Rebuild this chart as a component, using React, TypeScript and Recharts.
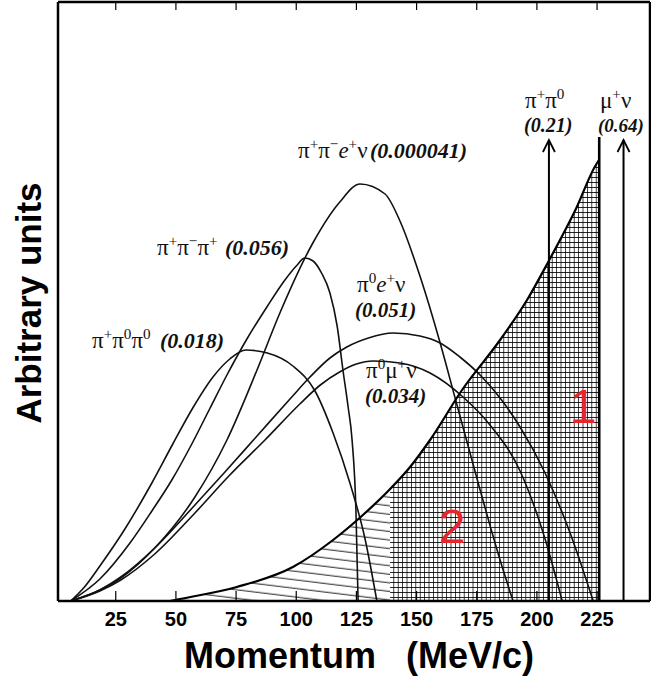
import React from "react";
import { ComposedChart, Line, Area, XAxis, YAxis } from "recharts";

const W = 651;
const H = 677;

// momentum axis (MeV/c)
const momentumTicks = [25, 50, 75, 100, 125, 150, 175, 200, 225];

// spectra: p = momentum (MeV/c), n = arbitrary units
const pi3Neutral = [
  { p: 6.3, n: 0 }, { p: 12.0, n: 14 }, { p: 18.4, n: 35 }, { p: 28.8, n: 72 },
  { p: 40.0, n: 118 }, { p: 48.7, n: 157 }, { p: 57.0, n: 193 }, { p: 65.4, n: 224 },
  { p: 72.4, n: 242 }, { p: 79.0, n: 251 }, { p: 88.0, n: 248 }, { p: 98.6, n: 235 },
  { p: 107.8, n: 210 }, { p: 115.3, n: 168 }, { p: 122.3, n: 118 }, { p: 128.6, n: 62 },
  { p: 133.5, n: 0 },
];

const pi3Charged = [
  { p: 6.3, n: 0 }, { p: 18.4, n: 22 }, { p: 30.9, n: 58 }, { p: 40.0, n: 90 },
  { p: 48.3, n: 121 }, { p: 56.6, n: 157 }, { p: 64.0, n: 192 }, { p: 71.2, n: 226 },
  { p: 79.5, n: 262 }, { p: 87.8, n: 294 }, { p: 95.0, n: 320 }, { p: 100.0, n: 335 },
  { p: 103.6, n: 343 }, { p: 107.0, n: 340 }, { p: 110.5, n: 328 }, { p: 114.0, n: 308 },
  { p: 117.0, n: 275 }, { p: 119.4, n: 231 }, { p: 121.5, n: 195 }, { p: 123.2, n: 161 },
  { p: 124.8, n: 91 }, { p: 125.7, n: 0 },
];

const ke4 = [
  { p: 6.3, n: 0 }, { p: 18.4, n: 11 }, { p: 27.1, n: 23 }, { p: 41.2, n: 53 },
  { p: 57.9, n: 104 }, { p: 71.2, n: 161 }, { p: 83.7, n: 231 }, { p: 93.2, n: 288 },
  { p: 106.9, n: 358 }, { p: 118.1, n: 399 }, { p: 126.5, n: 417 }, { p: 136.9, n: 407 },
  { p: 143.1, n: 380 }, { p: 151.4, n: 325 }, { p: 159.8, n: 258 }, { p: 165.9, n: 204 },
  { p: 176.4, n: 111 }, { p: 184.7, n: 41 }, { p: 190.1, n: 0 },
];

const ke3 = [
  { p: 6.3, n: 0 }, { p: 18.4, n: 11 }, { p: 27.1, n: 24 }, { p: 41.2, n: 53 },
  { p: 57.9, n: 96 }, { p: 70.0, n: 128 }, { p: 83.7, n: 165 }, { p: 97.4, n: 202 },
  { p: 105.7, n: 224 }, { p: 114.0, n: 243 }, { p: 121.0, n: 254 }, { p: 130.0, n: 263 },
  { p: 140.2, n: 268 }, { p: 151.4, n: 265 }, { p: 159.8, n: 258 }, { p: 168.0, n: 244 },
  { p: 176.4, n: 226 }, { p: 184.7, n: 203 }, { p: 193.0, n: 174 }, { p: 203.4, n: 128 },
  { p: 213.8, n: 68 }, { p: 223.4, n: 0 },
];

const kmu3 = [
  { p: 6.3, n: 0 }, { p: 18.4, n: 10 }, { p: 27.1, n: 21 }, { p: 41.2, n: 47 },
  { p: 57.9, n: 88 }, { p: 72.0, n: 125 }, { p: 87.0, n: 161 }, { p: 101.5, n: 197 },
  { p: 110.0, n: 216 }, { p: 118.0, n: 229 }, { p: 125.0, n: 237 }, { p: 131.9, n: 240 },
  { p: 143.1, n: 238 }, { p: 155.6, n: 228 }, { p: 169.3, n: 204 }, { p: 180.5, n: 176 },
  { p: 193.0, n: 130 }, { p: 203.4, n: 62 }, { p: 210.5, n: 0 },
];

// upper edge of the hatched background region
const shadeEdge = [
  { p: 47.5, n: 0 }, { p: 51.6, n: 2 }, { p: 75.3, n: 14 }, { p: 98.6, n: 34 },
  { p: 115.3, n: 61 }, { p: 127.7, n: 86 }, { p: 139.0, n: 112 }, { p: 147.3, n: 134 },
  { p: 155.6, n: 161 }, { p: 168.9, n: 211 }, { p: 184.7, n: 261 }, { p: 195.9, n: 301 },
  { p: 204.7, n: 339 }, { p: 216.0, n: 391 }, { p: 225.0, n: 438 }, { p: 225.9, n: 441 },
];
const gridFrom = 139.0;

// two-body lines: momentum and arrow height
const kpi2 = [{ p: 205, n: 0 }, { p: 205, n: 461 }];
const kmu2 = [{ p: 236, n: 0 }, { p: 236, n: 461 }];
const edgeSpike = [{ p: 225.9, n: 0 }, { p: 225.9, n: 464 }];

const SANS = "'Liberation Sans', Arial, sans-serif";
const SERIF = "'Liberation Serif', 'Times New Roman', serif";
const FRAME = { stroke: "#000", strokeWidth: 2.5 };

const BottomTick = (props: any) => {
  const { x, y, payload } = props;
  return (
    <g>
      <line x1={x} y1={y} x2={x} y2={y - 10} stroke="#000" strokeWidth={1.2} />
      <text x={x} y={y + 25} textAnchor="middle" fontFamily={SANS} fontWeight="bold" fontSize={20} fill="#000">
        {payload.value}
      </text>
    </g>
  );
};

const TopTick = (props: any) => {
  const { x, y } = props;
  return <line x1={x} y1={y} x2={x} y2={y + 8} stroke="#000" strokeWidth={1.2} />;
};

const ArrowHead = (props: any) => {
  const { cx, cy, index } = props;
  if (index !== 1) return <g key={`a${index}`} />;
  return (
    <polyline
      key={`a${index}`}
      points={`${cx - 6},${cy + 12} ${cx},${cy} ${cx + 6},${cy + 12}`}
      fill="none"
      stroke="#000"
      strokeWidth={1.8}
    />
  );
};

// b = base, s = superscript, i = italic base, v = bold italic value, n = new line (text = x shift)
type Seg = [string, "b" | "s" | "i" | "v" | "n"];

function Formula({
  x,
  y,
  segs,
  size = 23,
  valueSize = 22,
  lead = 18,
}: {
  x: number;
  y: number;
  segs: Seg[];
  size?: number;
  valueSize?: number;
  lead?: number;
}) {
  let raised = false;
  let pending: { x: number; dy: number } | null = null;
  const lift = 0.4 * size;
  return (
    <text x={x} y={y} fontFamily={SERIF} fontSize={size} fill="#111">
      {segs.map(([t, k], i) => {
        if (k === "n") {
          pending = { x: x + Number(t), dy: lead + (raised ? lift : 0) };
          raised = false;
          return null;
        }
        const sup = k === "s";
        let dy = sup && !raised ? -lift : !sup && raised ? lift : 0;
        let tx: number | undefined;
        if (pending) {
          dy += pending.dy;
          tx = pending.x;
          pending = null;
        }
        raised = sup;
        return (
          <tspan
            key={i}
            x={tx}
            dy={dy}
            fontSize={sup ? size * 0.66 : k === "v" ? valueSize : size}
            fontStyle={k === "i" || k === "v" ? "italic" : "normal"}
            fontWeight={k === "v" ? "bold" : "normal"}
          >
            {t}
          </tspan>
        );
      })}
    </text>
  );
}

const curveStyle = { stroke: "#111", strokeWidth: 1.6 };

export default function App() {
  return (
    <div style={{ position: "absolute", left: 0, top: 0, width: W, height: H, background: "#fff" }}>
      <svg width={0} height={0} style={{ position: "absolute" }}>
        <defs>
          <pattern id="hatchSlant" patternUnits="userSpaceOnUse" width={10} height={8.5} patternTransform="rotate(7)">
            <line x1={0} y1={4} x2={10} y2={4} stroke="#000" strokeWidth={0.9} />
          </pattern>
          <pattern id="hatchGrid" patternUnits="userSpaceOnUse" width={4.4} height={5}>
            <path d="M0 2.5 H4.4 M2.2 0 V5" stroke="#000" strokeWidth={0.8} fill="none" />
          </pattern>
        </defs>
      </svg>

      <ComposedChart width={W} height={H} margin={{ top: 1, right: 0, left: 57, bottom: 0 }}>
        <XAxis
          type="number"
          dataKey="p"
          domain={[1, 247]}
          ticks={momentumTicks}
          interval={0}
          height={76}
          tickSize={0}
          tickMargin={0}
          tickLine={false}
          axisLine={FRAME}
          tick={(p: any) => <BottomTick {...p} />}
          allowDataOverflow
        />
        <XAxis
          xAxisId="top"
          orientation="top"
          type="number"
          dataKey="p"
          domain={[1, 247]}
          ticks={momentumTicks}
          interval={0}
          height={1}
          tickSize={0}
          tickMargin={0}
          tickLine={false}
          axisLine={FRAME}
          tick={(p: any) => <TopTick {...p} />}
          allowDataOverflow
        />
        <YAxis type="number" domain={[0, 599]} width={1} tick={false} tickLine={false} axisLine={FRAME} allowDataOverflow />
        <YAxis
          yAxisId="right"
          orientation="right"
          type="number"
          domain={[0, 599]}
          width={1}
          tick={false}
          tickLine={false}
          axisLine={FRAME}
          allowDataOverflow
        />

        <Area
          data={shadeEdge.filter((d) => d.p <= gridFrom)}
          dataKey="n"
          type="monotone"
          stroke="none"
          fill="url(#hatchSlant)"
          fillOpacity={1}
          isAnimationActive={false}
        />
        <Area
          data={shadeEdge.filter((d) => d.p >= gridFrom)}
          dataKey="n"
          type="monotone"
          stroke="none"
          fill="url(#hatchGrid)"
          fillOpacity={1}
          isAnimationActive={false}
        />

        <Line data={pi3Neutral} dataKey="n" type="monotone" {...curveStyle} dot={false} isAnimationActive={false} />
        <Line data={pi3Charged} dataKey="n" type="monotone" {...curveStyle} dot={false} isAnimationActive={false} />
        <Line data={ke4} dataKey="n" type="monotone" {...curveStyle} dot={false} isAnimationActive={false} />
        <Line data={ke3} dataKey="n" type="monotone" {...curveStyle} dot={false} isAnimationActive={false} />
        <Line data={kmu3} dataKey="n" type="monotone" {...curveStyle} dot={false} isAnimationActive={false} />
        <Line data={shadeEdge} dataKey="n" type="monotone" stroke="#000" strokeWidth={2.2} dot={false} isAnimationActive={false} />
        <Line
          data={edgeSpike}
          xAxisId="top"
          yAxisId="right"
          dataKey="n"
          type="linear"
          stroke="#000"
          strokeWidth={2.6}
          dot={false}
          isAnimationActive={false}
        />
        <Line data={kpi2} dataKey="n" type="linear" stroke="#000" strokeWidth={2} dot={ArrowHead} isAnimationActive={false} />
        <Line data={kmu2} dataKey="n" type="linear" stroke="#000" strokeWidth={2} dot={ArrowHead} isAnimationActive={false} />
      </ComposedChart>

      <svg width={W} height={H} style={{ position: "absolute", left: 0, top: 0, pointerEvents: "none" }}>
        <Formula x={92} y={348} segs={[["π", "b"], ["+", "s"], ["π", "b"], ["0", "s"], ["π", "b"], ["0", "s"]]} />
        <Formula x={160} y={348} segs={[["(0.018)", "v"]]} />
        <Formula x={157} y={255} segs={[["π", "b"], ["+", "s"], ["π", "b"], ["−", "s"], ["π", "b"], ["+", "s"]]} />
        <Formula x={225} y={255} segs={[["(0.056)", "v"]]} />
        <Formula x={298} y={158} segs={[["π", "b"], ["+", "s"], ["π", "b"], ["−", "s"], ["e", "i"], ["+", "s"], ["ν", "b"]]} />
        <Formula x={370} y={158} segs={[["(0.000041)", "v"]]} />
        <Formula x={357} y={292} segs={[["π", "b"], ["0", "s"], ["e", "i"], ["+", "s"], ["ν", "b"]]} />
        <Formula x={355} y={317} valueSize={21} segs={[["(0.051)", "v"]]} />
        <Formula x={366} y={378} segs={[["π", "b"], ["0", "s"], ["μ", "b"], ["+", "s"], ["ν", "b"]]} />
        <Formula x={365} y={403} valueSize={21} segs={[["(0.034)", "v"]]} />
        <Formula x={525} y={108} lead={24} valueSize={20} segs={[["π", "b"], ["+", "s"], ["π", "b"], ["0", "s"], ["-1", "n"], ["(0.21)", "v"]]} />
        <Formula x={600} y={108} lead={24} valueSize={19} segs={[["μ", "b"], ["+", "s"], ["ν", "b"], ["-2", "n"], ["(0.64)", "v"]]} />

        <text x={583} y={423} textAnchor="middle" fontFamily={SANS} fontSize={48} fill="#e5262d">1</text>
        <text x={452} y={543} textAnchor="middle" fontFamily={SANS} fontSize={48} fill="#e5262d">2</text>

        <text x={359} y={668} textAnchor="middle" fontFamily={SANS} fontWeight="bold" fontSize={36} fill="#000" style={{ whiteSpace: "pre" }}>
          Momentum   (MeV/c)
        </text>
        <text
          x={41}
          y={303}
          transform="rotate(-90 41 303)"
          textAnchor="middle"
          fontFamily={SANS}
          fontWeight="bold"
          fontSize={35}
          fill="#000"
        >
          Arbitrary units
        </text>
      </svg>
    </div>
  );
}
